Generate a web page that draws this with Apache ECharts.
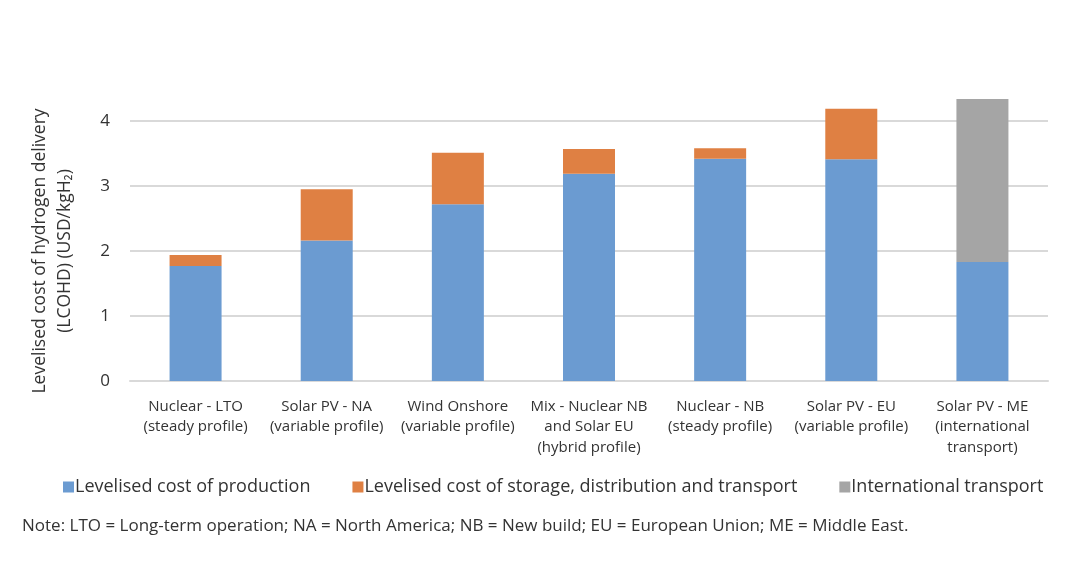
<!DOCTYPE html>
<html>
<head>
<meta charset="utf-8">
<script src="https://cdn.jsdelivr.net/npm/echarts@6/dist/echarts.min.js"></script>
<style>html,body{margin:0;padding:0;background:#fff;}#c{width:1068px;height:580px;}</style>
</head>
<body>
<div id="c"></div>
<script>
const categories = [
  "Nuclear - LTO\n(steady profile)",
  "Solar PV - NA\n(variable profile)",
  "Wind Onshore\n(variable profile)",
  "Mix - Nuclear NB\nand Solar EU\n(hybrid profile)",
  "Nuclear - NB\n(steady profile)",
  "Solar PV - EU\n(variable profile)",
  "Solar PV - ME\n(international\ntransport)"
];
const production = [1.77, 2.16, 2.72, 3.19, 3.42, 3.41, 1.83];
const storage = [0.17, 0.79, 0.79, 0.38, 0.16, 0.78, null];
const international = [null, null, null, null, null, null, 2.51];
const yTicks = [0, 1, 2, 3, 4];
const seriesNames = ["Levelised cost of production", "Levelised cost of storage, distribution and transport", "International transport"];
const noteText = "Note: LTO = Long-term operation; NA = North America; NB = New build; EU = European Union; ME = Middle East.";

const FONT = "Open Sans";
const chart = echarts.init(document.getElementById('c'));
const barCommon = { type: 'bar', stack: 'total', barWidth: 52, clip: false };
chart.setOption({
  backgroundColor: '#fff',
  animation: false,
  textStyle: { fontFamily: FONT, color: '#333' },
  grid: { left: 130, right: 20, top: 121, bottom: 199 },
  legend: {
    top: 473, left: 58,
    icon: 'rect', itemWidth: 11, itemHeight: 11, itemGap: 42,
    textStyle: { fontFamily: FONT, fontSize: 18, color: '#333', padding: [0, 0, 0, -4] },
    data: seriesNames
  },
  xAxis: {
    type: 'category', data: categories,
    axisLine: { show: true, lineStyle: { color: '#d9d9d9', width: 2 } },
    axisTick: { show: false },
    axisLabel: { interval: 0, margin: 15, fontSize: 15, lineHeight: 20.5, color: '#333', fontFamily: FONT }
  },
  yAxis: {
    type: 'value', min: yTicks[0], max: yTicks[yTicks.length - 1], interval: 1,
    name: 'Levelised cost of hydrogen delivery\n(LCOHD) (USD/kgH₂)',
    nameLocation: 'middle', nameGap: 52,
    nameTextStyle: { fontSize: 17.5, lineHeight: 25, color: '#333', fontFamily: FONT },
    axisLine: { show: false }, axisTick: { show: false },
    axisLabel: { margin: 20, fontSize: 17, color: '#333', fontFamily: FONT },
    splitLine: { lineStyle: { color: '#d9d9d9', width: 2 } }
  },
  series: [
    Object.assign({ name: seriesNames[0], data: production, itemStyle: { color: '#6b9bd1' } }, barCommon),
    Object.assign({ name: seriesNames[1], data: storage, itemStyle: { color: '#df8043' } }, barCommon),
    Object.assign({ name: seriesNames[2], data: international, itemStyle: { color: '#a5a5a5' } }, barCommon)
  ],
  graphic: [{
    type: 'text', left: 22, top: 518,
    style: { text: noteText, font: '17px "Open Sans"', fill: '#333' }
  }]
});
</script>
</body>
</html>
